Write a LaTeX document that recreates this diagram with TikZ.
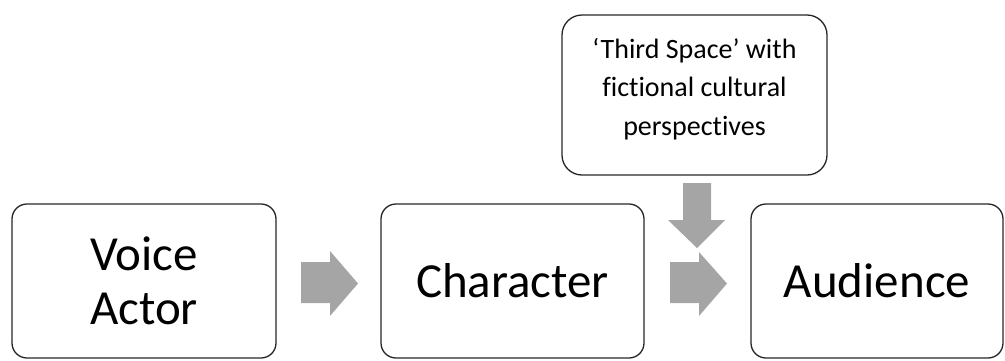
\documentclass[tikz,border=0pt]{standalone}
\usepackage{fontspec}
\setmainfont[Ligatures=NoCommon]{Carlito}
\definecolor{arrgray}{HTML}{A5A5A5}
\definecolor{linegray}{HTML}{262626}
\begin{document}
\begin{tikzpicture}[x=1pt,y=-1pt,
  box/.style={draw=linegray, line width=1.3pt, rounded corners=15pt, inner sep=0pt, align=center, text=black},
  bigtext/.style={font=\fontsize{49}{54}\selectfont},
  blockarrow/.style={fill=arrgray}]
\useasboundingbox (0,0) rectangle (1005,360);
\node[box, bigtext, minimum width=264pt, minimum height=154pt] (va) at (144,281) {Voice\\Actor};
\node[box, bigtext, minimum width=263pt, minimum height=154pt] (ch) at (512.5,281) {Character};
\node[box, bigtext, minimum width=252pt, minimum height=154pt] (au) at (877,281) {Audience};
\node[box, rounded corners=20pt, minimum width=265pt, minimum height=160pt] (ts) at (694.5,95) {};
\node[align=center, inner sep=0pt, font=\fontsize{28}{38.5}\selectfont] (tstext) at (694.5,89) {‘Third Space’ with\\fictional cultural\\perspectives};
% block arrows
\fill[blockarrow] (301,262) -- (330,262) -- (330,251) -- (358,283.5) -- (330,316) -- (330,303) -- (301,303) -- cycle;
\fill[blockarrow] (670,262) -- (699,262) -- (699,252) -- (727,283.5) -- (699,316) -- (699,303) -- (670,303) -- cycle;
\fill[blockarrow] (683,183) -- (711,183) -- (711,220) -- (725,220) -- (697,248) -- (668,220) -- (683,220) -- cycle;
\end{tikzpicture}
\end{document}
